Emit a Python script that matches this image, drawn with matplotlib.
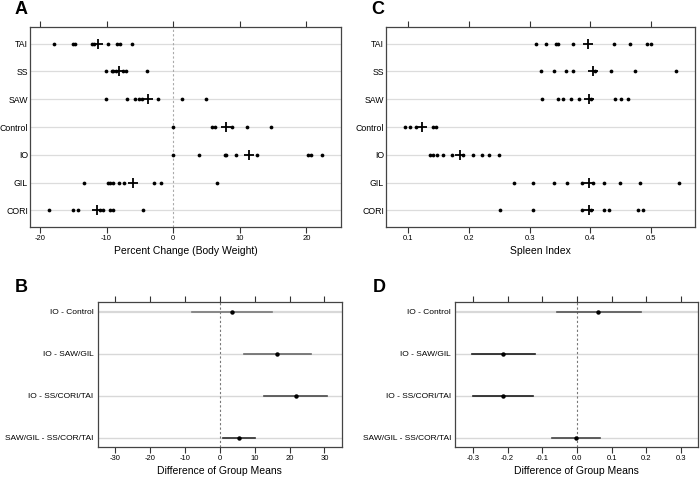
import matplotlib
matplotlib.use("Agg")
import matplotlib.pyplot as plt
import numpy as np

plt.rcParams['font.family'] = ['Liberation Sans', 'DejaVu Sans']

groups = ["TAI", "SS", "SAW", "Control", "IO", "GIL", "CORI"]

weight_vals = {
    "TAI": [-17.9, -15.0, -14.75, -12.25, -11.9, -9.75, -8.4, -8.0, -6.25],
    "SS": [-10.1, -9.25, -9.0, -8.6, -7.5, -7.1, -4.0],
    "SAW": [-10.1, -6.9, -5.75, -5.1, -4.75, -2.35, 1.35, 4.9],
    "Control": [0.0, 5.9, 6.3, 8.9, 11.15, 14.75],
    "IO": [0.0, 3.9, 7.75, 8.0, 9.4, 12.55, 20.3, 20.65, 22.3],
    "GIL": [-13.4, -9.85, -9.5, -9.0, -8.1, -7.35, -2.9, -1.9, 6.6],
    "CORI": [-18.65, -15.0, -14.25, -11.0, -10.5, -9.5, -9.1, -4.6],
}
weight_means = [-11.25, -8.1, -3.75, 7.9, 11.35, -6.1, -11.5]

spleen_vals = {
    "TAI": [0.310, 0.327, 0.343, 0.347, 0.371, 0.439, 0.465, 0.493, 0.499],
    "SS": [0.318, 0.341, 0.360, 0.372, 0.407, 0.434, 0.473, 0.541],
    "SAW": [0.320, 0.347, 0.355, 0.368, 0.382, 0.401, 0.441, 0.451, 0.462],
    "Control": [0.096, 0.104, 0.113, 0.142, 0.146],
    "IO": [0.136, 0.141, 0.148, 0.157, 0.173, 0.190, 0.207, 0.222, 0.234, 0.250],
    "GIL": [0.274, 0.305, 0.341, 0.361, 0.387, 0.404, 0.423, 0.448, 0.482, 0.545],
    "CORI": [0.251, 0.305, 0.386, 0.401, 0.422, 0.431, 0.479, 0.487],
}
spleen_means = [0.396, 0.404, 0.397, 0.124, 0.186, 0.397, 0.398]

contrasts = ["IO - Control", "IO - SAW/GIL", "IO - SS/CORI/TAI", "SAW/GIL - SS/COR/TAI"]
b_est = [3.5, 16.4, 21.8, 5.35]
b_lo = [-7.9, 6.9, 12.8, 0.76]
b_hi = [15.1, 26.1, 30.85, 10.2]
d_est = [0.0615, -0.2125, -0.2144, -0.002]
d_lo = [-0.0587, -0.302, -0.299, -0.071]
d_hi = [0.185, -0.120, -0.128, 0.067]
b_colors = ["#7a7a7a", "#686868", "#484848", "#2a2a2a"]
d_colors = ["#555555", "#1a1a1a", "#1a1a1a", "#444444"]

weight_ticks = [-20, -10, 0, 10, 20]
spleen_ticks = [0.1, 0.2, 0.3, 0.4, 0.5]
diff_b_ticks = [-30, -20, -10, 0, 10, 20, 30]
diff_d_ticks = [-0.3, -0.2, -0.1, 0.0, 0.1, 0.2, 0.3]

fig = plt.figure(figsize=(7.0, 4.78), dpi=100)

def style_axes(ax, ticks, ticklabels, ysize, ypad):
    for s in ax.spines.values():
        s.set_color("#444444")
        s.set_linewidth(0.9)
    ax.set_xticks(ticks)
    ax.set_xticklabels(ticklabels, fontsize=5.5)
    ax.tick_params(axis='x', which='both', top=True, bottom=True, labeltop=False,
                   direction='out', length=4, width=0.8, color="#333333", pad=2)
    ax.tick_params(axis='y', length=0, labelsize=ysize, pad=ypad)

def dot_panel(rect, vals, means, xlim, ticks, ticklabels, xlabel, zero_line):
    ax = fig.add_axes(rect)
    n = len(groups)
    ys = np.arange(n)[::-1]
    for y in ys:
        ax.axhline(y, color="#dcdcdc", lw=0.9, zorder=0)
    if zero_line:
        ax.axvline(0, color="#aaaaaa", lw=0.8, ls=(0, (2, 2)), zorder=1)
    for g, y, m in zip(groups, ys, means):
        v = vals[g]
        ax.plot(v, [y] * len(v), 'o', color='black', ms=2.7, mew=0, zorder=3)
        ax.plot([m], [y], marker='+', color='black', ms=6.5, mew=1.3, zorder=4)
    ax.set_ylim(-0.6, n - 0.4)
    ax.set_yticks(ys)
    ax.set_yticklabels(groups)
    ax.set_xlim(*xlim)
    style_axes(ax, ticks, ticklabels, 6.3, 1.5)
    ax.set_xlabel(xlabel, fontsize=7.5, labelpad=2.5)
    return ax

def ci_panel(rect, est, lo, hi, colors, xlim, ticks, ticklabels):
    ax = fig.add_axes(rect)
    n = len(contrasts)
    ys = np.arange(n)[::-1]
    for i, y in enumerate(ys):
        ax.axhline(y, color="#d8d8d8", lw=1.6 if i == 0 else 1.0, zorder=0)
    ax.axvline(0, color="#777777", lw=0.8, ls=(0, (2, 2)), zorder=1)
    for y, e, l, h, c in zip(ys, est, lo, hi, colors):
        ax.plot([l, h], [y, y], color=c, lw=1.2, zorder=2)
        ax.plot([e], [y], 'o', color='black', ms=3.2, mew=0, zorder=3)
    ax.set_ylim(-0.22, n - 1 + 0.23)
    ax.set_yticks(ys)
    ax.set_yticklabels(contrasts)
    ax.set_xlim(*xlim)
    style_axes(ax, ticks, ticklabels, 6, 3)
    ax.set_xlabel("Difference of Group Means", fontsize=7.5, labelpad=3)
    return ax

dot_panel([0.0429, 0.525, 0.4441, 0.4185], weight_vals, weight_means, (-21.5, 25.2),
          weight_ticks, [str(t) for t in weight_ticks], "Percent Change (Body Weight)", True)
dot_panel([0.5514, 0.525, 0.4415, 0.4185], spleen_vals, spleen_means, (0.064, 0.572),
          spleen_ticks, [f"{t:.1f}" for t in spleen_ticks], "Spleen Index", False)
ci_panel([0.1396, 0.0649, 0.349, 0.3031], b_est, b_lo, b_hi, b_colors, (-35.05, 35.05),
         diff_b_ticks, [str(t) for t in diff_b_ticks])
ci_panel([0.6504, 0.0649, 0.3463, 0.3031], d_est, d_lo, d_hi, d_colors, (-0.351, 0.348),
         diff_d_ticks, [f"{t:.1f}" for t in diff_d_ticks])

for lab, x, y in [("A", 21, 10), ("C", 378, 10), ("B", 21, 288), ("D", 379, 288)]:
    fig.text(x / 700, 1 - y / 478, lab, fontsize=13, fontweight='bold',
             ha='center', va='center')

fig.savefig("out.png", dpi=100)
